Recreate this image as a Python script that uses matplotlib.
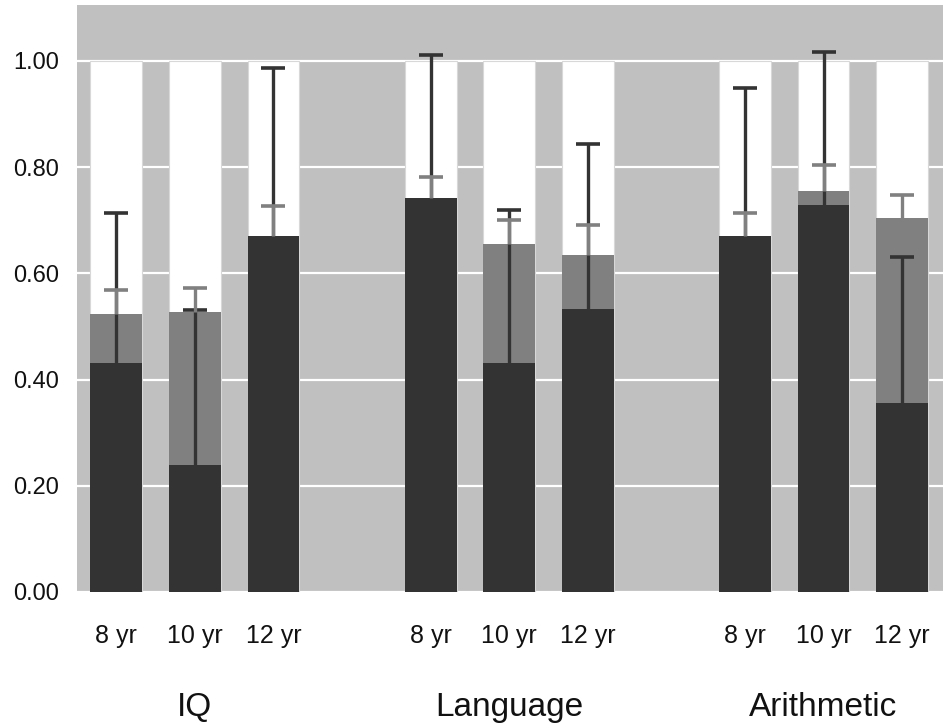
import matplotlib
matplotlib.use("Agg")
import matplotlib.pyplot as plt
import numpy as np

plt.rcParams['font.family'] = ['Liberation Sans', 'DejaVu Sans']

groups = ["IQ", "Language", "Arithmetic"]
ages = ["8 yr", "10 yr", "12 yr"]

# proportion explained: lower (dark) component and total (dark + grey)
dark_vals = [0.432, 0.239, 0.671, 0.741, 0.432, 0.533, 0.670, 0.729, 0.356]
total_vals = [0.523, 0.528, 0.671, 0.741, 0.655, 0.635, 0.670, 0.755, 0.704]
# upper ends of the one-sided error bars
dark_upper = [0.713, 0.530, 0.986, 1.010, 0.720, 0.844, 0.948, 1.017, 0.630]
total_upper = [0.569, 0.572, 0.726, 0.782, 0.700, 0.690, 0.713, 0.803, 0.748]
ceiling = 1.0
yticks = [0.0, 0.2, 0.4, 0.6, 0.8, 1.0]

DARK = "#333333"
MID = "#808080"
BG = "#c0c0c0"

x = np.array([g * 4 + i for g in range(len(groups)) for i in range(len(ages))], dtype=float)
width = 0.66

fig = plt.figure(figsize=(9.45, 7.28), dpi=100)
ax = fig.add_axes([77 / 945, 1 - 592 / 728, 866 / 945, 587 / 728])
ax.set_facecolor(BG)
ax.set_axisbelow(True)
ax.yaxis.grid(True, color="white", linewidth=1.6)
ax.xaxis.grid(False)

ax.bar(x, [ceiling] * len(x), width=width, color="white", edgecolor="#d8d8d8",
       linewidth=0.8, zorder=2)
ax.bar(x, total_vals, width=width, color=MID, zorder=3)
ax.bar(x, dark_vals, width=width, color=DARK, zorder=4)


def one_sided(base, upper, color, z):
    # stem from the bar top up to the upper limit, cap only at the upper end
    ax.vlines(x, base, upper, colors=color, linewidth=2.4, zorder=z)
    ax.plot(x, upper, linestyle="none", marker="_", markersize=17,
            markeredgewidth=2.6, color=color, zorder=z)


one_sided(dark_vals, dark_upper, DARK, 5)
one_sided(total_vals, total_upper, MID, 6)

ax.set_xlim(-0.5, 10.52)
ax.set_ylim(0, 1.105)
ax.set_yticks(yticks)
ax.set_yticklabels([f"{v:.2f}" for v in yticks])
ax.set_xticks(x)
ax.set_xticklabels(ages * len(groups))
ax.tick_params(axis="y", length=0, pad=13, labelsize=17, labelcolor="#111111")
ax.tick_params(axis="x", length=0, pad=23, labelsize=18, labelcolor="#111111")
for s in ax.spines.values():
    s.set_visible(False)

for g, name in enumerate(groups):
    ax.annotate(name, xy=(g * 4 + 1, 0), xycoords=("data", "axes fraction"),
                xytext=(0, -89), textcoords="offset points",
                ha="center", va="baseline", fontsize=24, color="#111111")

fig.savefig("out.png", dpi=100)
